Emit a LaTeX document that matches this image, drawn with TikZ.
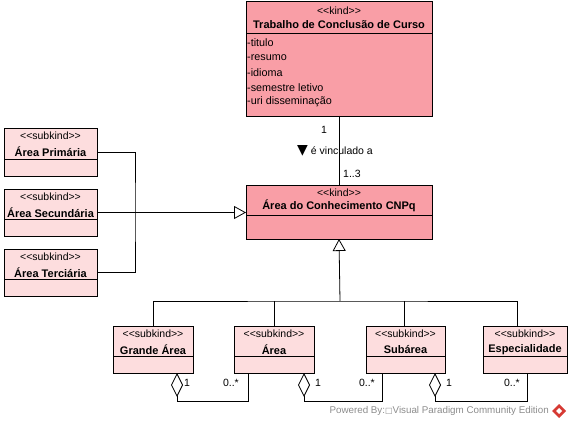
\documentclass[tikz,border=0pt]{standalone}
\usepackage{fontspec}
\setmainfont{Liberation Sans}[Ligatures=TeXOff]
\newfontfamily\dejavu{DejaVu Sans}
\usetikzlibrary{arrows.meta}
\definecolor{kindfill}{RGB}{249,158,166}
\definecolor{subfill}{RGB}{253,221,222}
\definecolor{wmgray}{RGB}{140,140,140}
\definecolor{logored}{RGB}{214,58,52}
\tikzset{
  umlbox/.style={draw, line width=0.8pt, anchor=north west, inner sep=0pt, outer sep=0pt},
  stereo/.style={font=\fontsize{10.5}{12}\selectfont, inner sep=0pt},
  ctitle/.style={font=\fontsize{11}{12}\selectfont\bfseries, inner sep=0pt},
  attr/.style={font=\fontsize{10.8}{12}\selectfont, inner sep=0pt, anchor=west},
  lbl/.style={font=\fontsize{10.5}{12}\selectfont, inner sep=0pt},
  conn/.style={line width=0.8pt},
  gen/.style={conn, -{Triangle[open, length=12pt, width=13pt]}},
  agg/.style={conn, {Diamond[open, length=24pt, width=12pt]}-},
}
\newcommand\sepline[2]{\draw[conn] ([yshift=-#2pt]#1.north west) -- ([yshift=-#2pt]#1.north east);}
\begin{document}
\begin{tikzpicture}[x=1pt, y=-1pt]
\useasboundingbox (0,0) rectangle (572,422);

% ---- kind classes
\node[umlbox, fill=kindfill, minimum width=186pt, minimum height=115pt] (tcc) at (246,1) {};
\sepline{tcc}{32}
\node[stereo] (tccst) at ([yshift=-10pt]tcc.north) {<<kind>>};
\node[ctitle] (tcct) at ([yshift=-23.5pt]tcc.north) {Trabalho de Conclusão de Curso};
\node[attr] (a1) at (247,43) {-titulo};
\node[attr] (a2) at (247,57.5) {-resumo};
\node[attr] (a3) at (247,72.5) {-idioma};
\node[attr] (a4) at (247,87.5) {-semestre letivo};
\node[attr] (a5) at (247,102) {-uri disseminação};

\node[umlbox, fill=kindfill, minimum width=186pt, minimum height=54pt] (cnpq) at (246,185) {};
\sepline{cnpq}{30}
\node[stereo] (cnpqst) at ([yshift=-7.5pt]cnpq.north) {<<kind>>};
\node[ctitle] (cnpqt) at ([yshift=-21pt]cnpq.north) {Área do Conhecimento CNPq};

% ---- subkind classes (left)
\node[umlbox, fill=subfill, minimum width=93pt, minimum height=48pt] (prim) at (4,128) {};
\sepline{prim}{31}
\node[stereo] (primst) at ([yshift=-8pt]prim.north) {<<subkind>>};
\node[ctitle] (primt) at ([yshift=-24pt]prim.north) {Área Primária};

\node[umlbox, fill=subfill, minimum width=93pt, minimum height=47pt] (sec) at (4,189) {};
\sepline{sec}{30}
\node[stereo] (secst) at ([yshift=-8pt]sec.north) {<<subkind>>};
\node[ctitle] (sect) at ([yshift=-24pt]sec.north) {Área Secundária};

\node[umlbox, fill=subfill, minimum width=93pt, minimum height=47pt] (ter) at (4,249) {};
\sepline{ter}{30}
\node[stereo] (terst) at ([yshift=-8pt]ter.north) {<<subkind>>};
\node[ctitle] (tert) at ([yshift=-24pt]ter.north) {Área Terciária};

% ---- subkind classes (bottom)
\node[umlbox, fill=subfill, minimum width=80pt, minimum height=47pt] (ga) at (113,326) {};
\sepline{ga}{30}
\node[stereo] (gast) at ([yshift=-8pt]ga.north) {<<subkind>>};
\node[ctitle] (gat) at ([yshift=-24pt]ga.north) {Grande Área};

\node[umlbox, fill=subfill, minimum width=80pt, minimum height=47pt] (area) at (234,326) {};
\sepline{area}{30}
\node[stereo] (areast) at ([yshift=-8pt]area.north) {<<subkind>>};
\node[ctitle] (areat) at ([yshift=-24pt]area.north) {Área};

\node[umlbox, fill=subfill, minimum width=79pt, minimum height=47pt] (sub) at (366,326) {};
\sepline{sub}{30}
\node[stereo] (subst) at ([yshift=-8pt]sub.north) {<<subkind>>};
\node[ctitle] (subt) at ([yshift=-24pt]sub.north) {Subárea};

\node[umlbox, fill=subfill, minimum width=84pt, minimum height=47pt] (esp) at (483,326) {};
\sepline{esp}{30}
\node[stereo] (espst) at ([yshift=-8pt]esp.north) {<<subkind>>};
\node[ctitle] (espt) at ([yshift=-24pt]esp.north) {Especialidade};

% ---- association
\draw[conn] (tcc.south) -- (cnpq.north);
\node[lbl] (m1) at (324,130) {1};
\node[lbl, anchor=west] (assoc) at (297,151) {{\dejavu\fontsize{14}{14}\selectfont ▼}\hspace{3pt}é vinculado a};
\node[lbl, anchor=west] (m2) at (343,174) {1..3};

% ---- generalization (left)
\coordinate (gj) at (135,212);
\draw[conn] (prim.east) -| (gj) |- (ter.east);
\draw[gen] (sec.east) -- (sec.east -| cnpq.west);

% ---- generalization (bottom)
\coordinate (bj) at (340,301);
\draw[gen] (bj) -- (cnpq.south);
\draw[conn] (ga.north) |- (bj) -| ([xshift=-8pt]esp.north);
\draw[conn] (area.north) -- (area.north |- bj);
\draw[conn] ([xshift=-1.5pt]sub.north) -- ([xshift=-1.5pt]sub.north |- bj);

% ---- aggregations
\draw[agg] ([xshift=24pt]ga.south) -- ++(0,28) -| ([xshift=-26pt]area.south);
\node[lbl, anchor=west] (g1) at (184,383) {1};
\node[lbl, anchor=east] (g2) at (239,383) {0..*};

\draw[agg] ([xshift=30pt]area.south) -- ++(0,28) -| ([xshift=-23.5pt]sub.south);
\node[lbl, anchor=west] (h1) at (315,383) {1};
\node[lbl, anchor=east] (h2) at (375,383) {0..*};

\draw[agg] ([xshift=29.5pt]sub.south) -- ++(0,28) -| ([xshift=2pt]esp.south);
\node[lbl, anchor=west] (k1) at (446,383) {1};
\node[lbl, anchor=east] (k2) at (520,383) {0..*};

% ---- watermark
\node[font=\fontsize{9.8}{11}\selectfont, text=wmgray, inner sep=0pt, anchor=east] (wm) at (549,411)
  {Powered By:{\dejavu\fontsize{8}{9}\selectfont □}Visual Paradigm Community Edition};
\fill[logored] (559,404) -- (566,411) -- (559,418) -- (552,411) -- cycle;
\fill[white] (559,408) -- (562,411) -- (559,414) -- (556,411) -- cycle;
\end{tikzpicture}
\end{document}
